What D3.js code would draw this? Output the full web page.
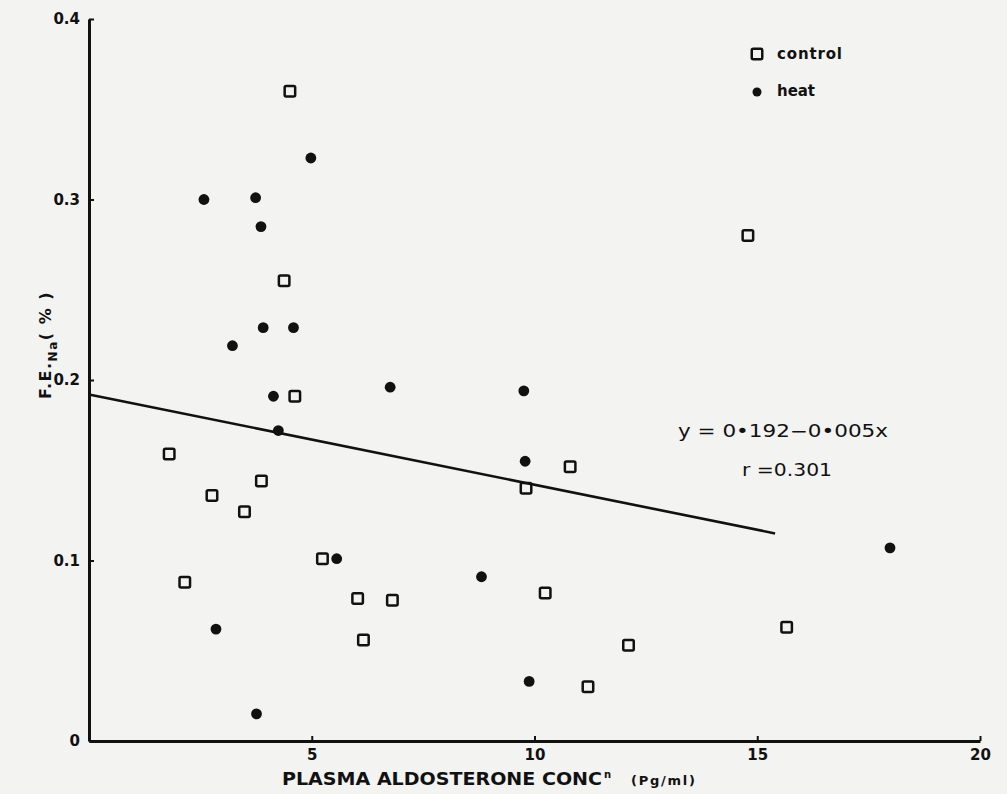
<!DOCTYPE html>
<html>
<head>
<meta charset="utf-8">
<script src="https://cdn.jsdelivr.net/npm/d3@7"></script>
<style>
  body { margin: 0; background: #f3f3f1; }
  svg { display: block; }
  text { font-family: "DejaVu Sans", "Liberation Sans", sans-serif; fill: #111; }
</style>
</head>
<body>
<svg id="chart" width="1007" height="794"></svg>
<script>
// Data
let controlX = [4.51, 4.38, 4.62, 1.80, 3.87, 2.76, 3.49, 5.24, 2.15, 6.03, 6.81, 6.16, 10.80, 9.81, 10.24, 12.11, 11.20, 14.79, 15.66]
let controlY = [0.360, 0.255, 0.191, 0.159, 0.144, 0.136, 0.127, 0.101, 0.088, 0.079, 0.078, 0.056, 0.152, 0.140, 0.082, 0.053, 0.030, 0.280, 0.063]
let heatX = [4.98, 2.58, 3.74, 3.86, 3.91, 4.59, 3.22, 6.76, 4.14, 4.25, 5.56, 2.85, 3.76, 9.79, 9.76, 8.81, 9.88, 17.98]
let heatY = [0.323, 0.300, 0.301, 0.285, 0.229, 0.229, 0.219, 0.196, 0.191, 0.172, 0.101, 0.062, 0.015, 0.155, 0.194, 0.091, 0.033, 0.107]
let xTicks = [5, 10, 15, 20]
let yTicks = [0, 0.1, 0.2, 0.3, 0.4]
let fitIntercept = 0.192
let fitSlope = -0.005
let fitRange = [0, 15.4]

// Helper Functions
let zip = (xs, ys) => xs.map((x, i) => ({x: x, y: ys[i]}))

let svg = d3.select("#chart")
let x = d3.scaleLinear().domain([0, 20]).range([89, 980])
let y = d3.scaleLinear().domain([0, 0.4]).range([741, 19])

// Axes
let xAxis = d3.axisBottom(x).tickValues(xTicks).tickSizeInner(-5).tickSizeOuter(0).tickPadding(8)
let yAxis = d3.axisLeft(y).tickValues(yTicks).tickSizeInner(-5).tickSizeOuter(0).tickPadding(9)
  .tickFormat(d => d === 0 ? "0" : d3.format(".1f")(d))

let gx = svg.append("g").attr("transform", `translate(0,${y(0)})`).call(xAxis)
let gy = svg.append("g").attr("transform", `translate(${x(0)},0)`).call(yAxis)

;[gx, gy].forEach(g => {
  g.attr("font-family", null).attr("font-size", null)
  g.select(".domain").attr("stroke", "#111").attr("stroke-width", 3)
  g.selectAll(".tick line").attr("stroke", "#111").attr("stroke-width", 2)
  g.selectAll(".tick text").attr("fill", "#111")
    .style("font-weight", "bold").style("font-size", "15px")
})
gx.selectAll(".tick text").attr("dy", "0.7em")

// Axis titles
svg.append("text").attr("x", 282).attr("y", 785).attr("textLength", 320).attr("lengthAdjust", "spacingAndGlyphs")
  .style("font-weight", "bold").style("font-size", "17px").text("PLASMA ALDOSTERONE CONC")
svg.append("text").attr("x", 604).attr("y", 778)
  .style("font-weight", "bold").style("font-size", "10px").text("n")
svg.append("text").attr("x", 631).attr("y", 785).attr("textLength", 64)
  .style("font-weight", "bold").style("font-size", "13px").text("(Pg/ml)")

let yt = svg.append("text").attr("transform", "translate(51,345) rotate(-90)")
  .attr("text-anchor", "middle").style("font-weight", "bold").style("font-size", "16px")
  .style("letter-spacing", "1.5px")
yt.append("tspan").text("F.E.")
yt.append("tspan").attr("dy", 6).style("font-size", "12px").text("Na")
yt.append("tspan").attr("dy", -6).text("( % )")

// Regression line
let fitLine = d3.line().x(d => x(d)).y(d => y(fitIntercept + fitSlope * d))
svg.append("path").attr("d", fitLine(fitRange))
  .attr("stroke", "#111").attr("stroke-width", 2.6).attr("fill", "none")

svg.append("text").attr("x", 678).attr("y", 437).attr("textLength", 210).attr("lengthAdjust", "spacingAndGlyphs")
  .style("font-size", "17px").text("y = 0•192−0•005x")
svg.append("text").attr("x", 742).attr("y", 476).attr("textLength", 90).attr("lengthAdjust", "spacingAndGlyphs")
  .style("font-size", "17px").text("r =0.301")

// Points
let sq = 10.5
svg.append("g").selectAll("rect").data(zip(controlX, controlY)).join("rect")
  .attr("x", d => x(d.x) - sq / 2).attr("y", d => y(d.y) - sq / 2)
  .attr("width", sq).attr("height", sq).attr("rx", 1.5)
  .attr("fill", "none").attr("stroke", "#111").attr("stroke-width", 2.5)

svg.append("g").selectAll("circle").data(zip(heatX, heatY)).join("circle")
  .attr("cx", d => x(d.x)).attr("cy", d => y(d.y)).attr("r", 5.4)
  .attr("fill", "#111")

// Legend
let legend = svg.append("g").attr("transform", "translate(757,0)")
legend.append("rect").attr("x", -sq / 2).attr("y", 54 - sq / 2).attr("width", sq).attr("height", sq).attr("rx", 1.5)
  .attr("fill", "none").attr("stroke", "#111").attr("stroke-width", 2.5)
legend.append("text").attr("x", 20).attr("y", 59).attr("textLength", 65)
  .style("font-weight", "bold").style("font-size", "15px").text("control")
legend.append("circle").attr("cx", 0).attr("cy", 92).attr("r", 4.5).attr("fill", "#111")
legend.append("text").attr("x", 20).attr("y", 96).attr("textLength", 38)
  .style("font-weight", "bold").style("font-size", "15px").text("heat")
</script>
</body>
</html>
